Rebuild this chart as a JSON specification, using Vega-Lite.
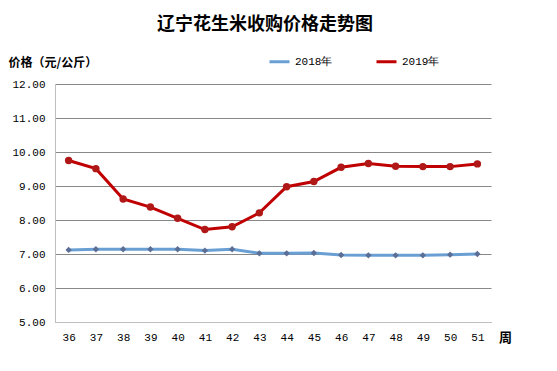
{
  "$schema": "https://vega.github.io/schema/vega-lite/v6.json",
  "width": 436,
  "height": 238,
  "autosize": {"type": "none"},
  "padding": {"left": 55, "top": 84, "right": 66, "bottom": 49},
  "background": "white",
  "title": {
    "text": "辽宁花生米收购价格走势图",
    "font": "Noto Sans CJK SC",
    "fontSize": 18,
    "fontWeight": "bold",
    "color": "#000000",
    "anchor": "middle",
    "frame": "group",
    "dx": -8,
    "offset": 16
  },
  "data": {
    "values": [
      {"week": "36", "year": "2018年", "price": 7.12},
      {"week": "37", "year": "2018年", "price": 7.14},
      {"week": "38", "year": "2018年", "price": 7.14},
      {"week": "39", "year": "2018年", "price": 7.14},
      {"week": "40", "year": "2018年", "price": 7.14},
      {"week": "41", "year": "2018年", "price": 7.10},
      {"week": "42", "year": "2018年", "price": 7.14},
      {"week": "43", "year": "2018年", "price": 7.02},
      {"week": "44", "year": "2018年", "price": 7.02},
      {"week": "45", "year": "2018年", "price": 7.03},
      {"week": "46", "year": "2018年", "price": 6.97},
      {"week": "47", "year": "2018年", "price": 6.96},
      {"week": "48", "year": "2018年", "price": 6.96},
      {"week": "49", "year": "2018年", "price": 6.96},
      {"week": "50", "year": "2018年", "price": 6.98},
      {"week": "51", "year": "2018年", "price": 7.00},
      {"week": "36", "year": "2019年", "price": 9.75},
      {"week": "37", "year": "2019年", "price": 9.51},
      {"week": "38", "year": "2019年", "price": 8.62},
      {"week": "39", "year": "2019年", "price": 8.38},
      {"week": "40", "year": "2019年", "price": 8.05},
      {"week": "41", "year": "2019年", "price": 7.72},
      {"week": "42", "year": "2019年", "price": 7.80},
      {"week": "43", "year": "2019年", "price": 8.21},
      {"week": "44", "year": "2019年", "price": 8.98},
      {"week": "45", "year": "2019年", "price": 9.13},
      {"week": "46", "year": "2019年", "price": 9.55},
      {"week": "47", "year": "2019年", "price": 9.66},
      {"week": "48", "year": "2019年", "price": 9.58},
      {"week": "49", "year": "2019年", "price": 9.57},
      {"week": "50", "year": "2019年", "price": 9.57},
      {"week": "51", "year": "2019年", "price": 9.65}
    ]
  },
  "encoding": {
    "x": {
      "field": "week",
      "type": "ordinal",
      "scale": {"type": "point", "padding": 0.5},
      "axis": {
        "title": "周",
        "titleFont": "Noto Sans CJK SC",
        "titleFontSize": 13,
        "titleFontWeight": "bold",
        "titleColor": "#000000",
        "titleX": 450,
        "titleY": 15,
        "titleAlign": "center",
        "titleBaseline": "middle",
        "labelAngle": 0,
        "labelFont": "Liberation Mono",
        "labelFontSize": 11,
        "labelColor": "#000000",
        "labelPadding": 9,
        "ticks": false,
        "domainColor": "#bfbfbf",
        "grid": false
      }
    },
    "y": {
      "field": "price",
      "type": "quantitative",
      "scale": {"domain": [5, 12], "nice": false, "zero": false},
      "axis": {
        "title": "价格（元/公斤）",
        "titleFont": "Noto Sans CJK SC",
        "titleFontSize": 12,
        "titleFontWeight": "bold",
        "titleColor": "#000000",
        "titleAngle": 0,
        "titleX": -47,
        "titleY": -22,
        "titleAlign": "left",
        "titleBaseline": "middle",
        "values": [5, 6, 7, 8, 9, 10, 11, 12],
        "format": ".2f",
        "labelFont": "Liberation Mono",
        "labelFontSize": 11,
        "labelColor": "#000000",
        "labelPadding": 10,
        "ticks": false,
        "domainColor": "#bfbfbf",
        "grid": true,
        "gridColor": "#888888",
        "gridWidth": 1
      }
    }
  },
  "layer": [
    {
      "mark": {"type": "line", "strokeWidth": 3},
      "encoding": {
        "color": {
          "field": "year",
          "type": "nominal",
          "scale": {"domain": ["2018年", "2019年"], "range": ["#6A9FD4", "#C00000"]},
          "legend": {
            "title": null,
            "orient": "none",
            "legendX": 213,
            "legendY": -34,
            "direction": "horizontal",
            "symbolType": "stroke",
            "symbolSize": 400,
            "symbolStrokeWidth": 3,
            "columnPadding": 37,
            "labelFont": "Liberation Mono",
            "labelFontSize": 11,
            "labelColor": "#000000",
            "labelOffset": 4
          }
        }
      }
    },
    {
      "mark": {"type": "point", "filled": true, "opacity": 1},
      "encoding": {
        "shape": {
          "field": "year",
          "type": "nominal",
          "scale": {"domain": ["2018年", "2019年"], "range": ["diamond", "circle"]},
          "legend": null
        },
        "size": {
          "field": "year",
          "type": "nominal",
          "scale": {"domain": ["2018年", "2019年"], "range": [40, 55]},
          "legend": null
        },
        "color": {
          "field": "year",
          "type": "nominal",
          "scale": {"domain": ["2018年", "2019年"], "range": ["#5B6E96", "#B01818"]},
          "legend": null
        }
      }
    }
  ],
  "resolve": {"scale": {"color": "independent"}},
  "config": {
    "view": {"stroke": null}
  }
}
